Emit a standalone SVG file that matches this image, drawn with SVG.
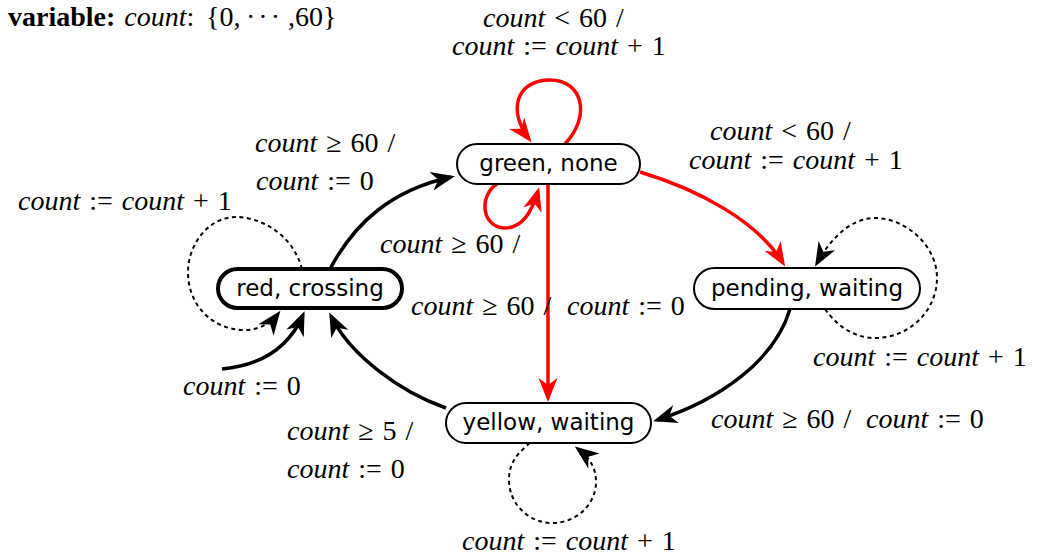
<svg xmlns="http://www.w3.org/2000/svg" width="1037" height="557" viewBox="0 0 1037 557">
<style>
.node rect{fill:#fff;stroke:#000;stroke-width:2}
.node.init rect{stroke-width:4}
.node text{font-family:"DejaVu Sans",sans-serif;font-size:23px;text-anchor:middle;fill:#000}
.lbl{font-family:"Liberation Serif","Times New Roman",serif;font-size:28px;fill:#000;word-spacing:2px}
.i{font-style:italic}
.b{font-weight:bold}
.e{fill:none;stroke:#000;stroke-width:3.5}
.e.red{stroke:#f00}
.e.dot{stroke-width:2;stroke-dasharray:4 3.5}
</style>
<defs>
<marker id="ab" viewBox="-26 -11 32 22" refX="-4" refY="0" markerWidth="32" markerHeight="22" markerUnits="userSpaceOnUse" orient="auto"><path d="M0,0 L-24,-9.5 L-17,0 L-24,9.5 Z" fill="#000"/></marker>
<marker id="ar" viewBox="-26 -11 32 22" refX="-4" refY="0" markerWidth="32" markerHeight="22" markerUnits="userSpaceOnUse" orient="auto"><path d="M0,0 L-24,-9.5 L-17,0 L-24,9.5 Z" fill="#f00"/></marker>
</defs>

<text class="lbl" x="8" y="26"><tspan class="b">variable:</tspan> <tspan class="i">count</tspan>:<tspan x="206">{0,</tspan><tspan x="246" letter-spacing="3">···</tspan><tspan x="288">,60}</tspan></text>

<g id="edges">
<path class="e red" d="M565,144 C592,115 582,80 550,80 C515,80 508,112 529,139" marker-end="url(#ar)"/>
<path class="e red" d="M497,184 C478,196 482,228 505,228 C522,228 532,212 538,191" marker-end="url(#ar)"/>
<path class="e red" d="M548,185 L548,398" marker-end="url(#ar)"/>
<path class="e red" d="M640,172 C700,190 758,222 783,263" marker-end="url(#ar)"/>
<path class="e" d="M330,269 C355,222 392,190 451,177" marker-end="url(#ab)"/>
<path class="e" d="M446,408 C400,392 350,355 331,316" marker-end="url(#ab)"/>
<path class="e" d="M790,309 C775,360 720,400 657,420" marker-end="url(#ab)"/>
<path class="e" d="M222,369 C265,365 290,345 303,315" marker-end="url(#ab)"/>
<path class="e dot" d="M302,269 C292,232 258,217 236,217 C208,217 188,245 188,272 C188,305 212,330 245,330 C260,330 272,322 278,314" marker-end="url(#ab)"/>
<path class="e dot" d="M825,309 C840,330 858,338 875,338 C910,338 937,310 937,278 C937,245 905,218 875,218 C850,218 830,240 817,263" marker-end="url(#ab)"/>
<path class="e dot" d="M530,443 C515,455 509,465 509,480 C509,505 530,523 552,523 C578,523 596,503 596,482 C596,468 590,458 578,449" marker-end="url(#ab)"/>
</g>

<g id="labels">
<text class="lbl" x="483" y="27"><tspan class="i">count</tspan> &lt; 60 /</text>
<text class="lbl" x="452" y="55"><tspan class="i">count</tspan> := <tspan class="i">count</tspan> + 1</text>
<text class="lbl" x="255" y="152"><tspan class="i">count</tspan> ≥ 60 /</text>
<text class="lbl" x="256" y="190"><tspan class="i">count</tspan> := 0</text>
<text class="lbl" x="18" y="210"><tspan class="i">count</tspan> := <tspan class="i">count</tspan> + 1</text>
<text class="lbl" x="380" y="253"><tspan class="i">count</tspan> ≥ 60 /</text>
<text class="lbl" x="411" y="315"><tspan class="i">count</tspan> ≥ 60 /</text>
<text class="lbl" x="567" y="315"><tspan class="i">count</tspan> := 0</text>
<text class="lbl" x="710" y="140"><tspan class="i">count</tspan> &lt; 60 /</text>
<text class="lbl" x="689" y="169"><tspan class="i">count</tspan> := <tspan class="i">count</tspan> + 1</text>
<text class="lbl" x="813" y="366"><tspan class="i">count</tspan> := <tspan class="i">count</tspan> + 1</text>
<text class="lbl" x="183" y="395"><tspan class="i">count</tspan> := 0</text>
<text class="lbl" x="711" y="428"><tspan class="i">count</tspan> ≥ 60 /</text>
<text class="lbl" x="866" y="428"><tspan class="i">count</tspan> := 0</text>
<text class="lbl" x="287" y="440"><tspan class="i">count</tspan> ≥ 5 /</text>
<text class="lbl" x="287" y="478"><tspan class="i">count</tspan> := 0</text>
<text class="lbl" x="462" y="550"><tspan class="i">count</tspan> := <tspan class="i">count</tspan> + 1</text>
</g>

<g id="green" class="node"><rect x="457" y="144" width="183" height="40" rx="20"/><text x="548.5" y="171">green, none</text></g>
<g id="red" class="node init"><rect x="218" y="269" width="184" height="39" rx="19.5"/><text x="310" y="296">red, crossing</text></g>
<g id="pending" class="node"><rect x="694" y="268" width="226" height="41" rx="20.5"/><text x="807" y="296">pending, waiting</text></g>
<g id="yellow" class="node"><rect x="446" y="403" width="205" height="40" rx="20"/><text x="548.5" y="430">yellow, waiting</text></g>
</svg>
